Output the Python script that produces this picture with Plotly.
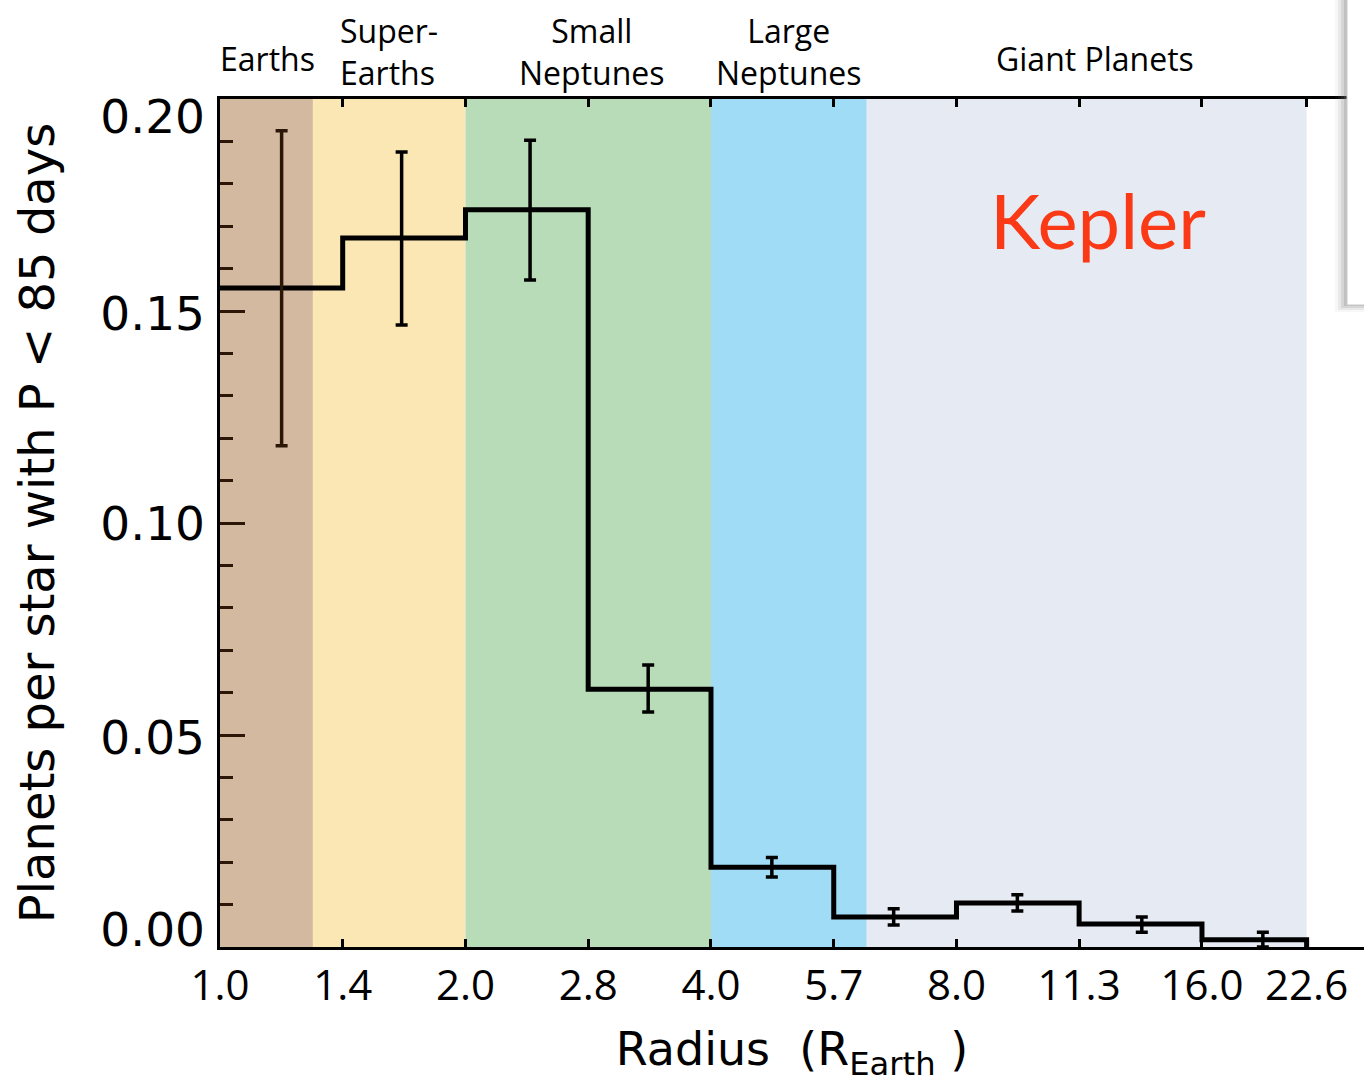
import math
import plotly.graph_objects as go

# ---- data ----
bin_edges = [1.0, 1.414, 2.0, 2.828, 4.0, 5.657, 8.0, 11.31, 16.0, 21.5]
occurrence = [0.1554, 0.1672, 0.1739, 0.0608, 0.0188, 0.0071, 0.0104, 0.0054, 0.0017]
err_upper = [0.1925, 0.1875, 0.1903, 0.0665, 0.0211, 0.0090, 0.0123, 0.0071, 0.0035]
err_lower = [0.1182, 0.1467, 0.1573, 0.0554, 0.0165, 0.0052, 0.0085, 0.0035, 0.0000]
err_x = [1.19, 1.67, 2.40, 3.35, 4.75, 6.70, 9.50, 13.5, 19.0]

tick_vals = [1.0, 1.414, 2.0, 2.828, 4.0, 5.657, 8.0, 11.31, 16.0, 21.5]
tick_text = ["1.0", "1.4", "2.0", "2.8", "4.0", "5.7", "8.0", "11.3", "16.0", "22.6"]

y_tick_vals = [0.0, 0.05, 0.10, 0.15, 0.20]
y_label_pos = [0.0040, 0.0495, 0.0998, 0.1495, 0.1958]   # labels sit inside the frame at the ends
y_tick_text = ["0.00", "0.05", "0.10", "0.15", "0.20"]

band_names = ["Earths", "Super-<br>Earths", "Small<br>Neptunes", "Large<br>Neptunes", "Giant Planets"]
band_edges = [1.0, 1.30, 2.0, 4.0, 6.21, 21.5]
band_colors = ["#d4b9a1", "#fae7b4", "#b8dcb7", "#a0dcf6", "#e6ebf3"]
band_label_x = [1.145, 1.395, 2.86, 4.99, 11.83]
band_label_anchor = ["center", "left", "center", "center", "center"]
band_label_y = [1.0483, 1.0565, 1.0565, 1.0565, 1.0483]

fig = go.Figure()

# coloured category bands
for i, c in enumerate(band_colors):
    fig.add_shape(type="rect", xref="x", yref="paper",
                  x0=band_edges[i], x1=band_edges[i + 1], y0=0, y1=1,
                  fillcolor=c, line_width=0, layer="below")

# step histogram
step_x = bin_edges + [bin_edges[-1]]
step_y = occurrence + [occurrence[-1], 0.0]
fig.add_trace(go.Scatter(x=step_x, y=step_y, mode="lines", line_shape="hv",
                         line=dict(color="black", width=5), hoverinfo="skip"))

# error bars (first one sits in the brown band and looks dark brown)
def add_err(idx, color):
    xs = [err_x[i] for i in idx]
    ys = [occurrence[i] for i in idx]
    up = [err_upper[i] - occurrence[i] for i in idx]
    dn = [occurrence[i] - err_lower[i] for i in idx]
    fig.add_trace(go.Scatter(x=xs, y=ys, mode="markers",
                             marker=dict(size=1, color="rgba(0,0,0,0)"),
                             error_y=dict(type="data", symmetric=False, array=up, arrayminus=dn,
                                          color=color, thickness=3.5, width=6)))

add_err([0], "#2b1608")
add_err(list(range(1, 9)), "black")

# invisible trace carrying the tick-label axis
fig.add_trace(go.Scatter(x=[bin_edges[0]], y=[0], yaxis="y2", mode="markers",
                         marker=dict(size=1, color="rgba(0,0,0,0)"), hoverinfo="skip"))

# category labels above the plot (log axis -> annotation x in log10)
for name, x, anc, yy in zip(band_names, band_label_x, band_label_anchor, band_label_y):
    fig.add_annotation(x=math.log10(x), xref="x", y=yy, yref="paper", text=name, showarrow=False,
                       xanchor=anc, yanchor="middle", align=anc,
                       font=dict(family="Open Sans", size=32, color="black"))

# Kepler label
fig.add_annotation(x=math.log10(11.92), xref="x", y=0.1715, yref="y", text="Kepler", showarrow=False,
                   xanchor="center", yanchor="middle",
                   font=dict(family="Lato", size=76, color="#fa3a16"))

# overlapping window at top-right (screenshot artifact)
for k, op in enumerate([0.06, 0.10, 0.16, 0.24]):
    fig.add_shape(type="rect", xref="paper", yref="paper",
                  x0=(1335 + 3 * k - 220) / 1144, x1=1.05,
                  y0=(947 - 312 + 2 * k) / 848, y1=1.2,
                  fillcolor="rgba(120,120,120,%.2f)" % op, line_width=0, layer="above")
fig.add_shape(type="rect", xref="paper", yref="paper",
              x0=(1347 - 220) / 1144, x1=1.05, y0=(947 - 305) / 848, y1=1.2,
              fillcolor="white", line=dict(color="#c8c8c8", width=1), layer="above")

fig.update_layout(
    width=1364, height=1083,
    margin=dict(l=220, r=0, t=99, b=136),
    paper_bgcolor="white", plot_bgcolor="white",
    showlegend=False,
    xaxis=dict(type="log", range=[0, 1.4028], tickmode="array",
               tickvals=tick_vals, ticktext=tick_text,
               ticks="inside", ticklen=8, tickwidth=3, tickcolor="black",
               showline=True, linewidth=3, linecolor="black", mirror="ticks",
               showgrid=False, zeroline=False,
               tickfont=dict(family="Open Sans", size=42, color="black"),
               title=dict(text="Radius  (R<sub>Earth</sub> )", standoff=29,
                          font=dict(family="DejaVu Sans", size=46, color="black"))),
    yaxis=dict(range=[0, 0.2], tickmode="array", tickvals=y_tick_vals,
               showticklabels=False,
               ticks="inside", ticklen=25, tickwidth=3, tickcolor="#2b1608",
               minor=dict(dtick=0.01, tick0=0, ticks="inside", ticklen=13, tickwidth=3,
                          tickcolor="#2b1608", showgrid=False),
               showline=True, linewidth=3, linecolor="black",
               showgrid=False, zeroline=False,
               title=dict(text="Planets per star with P < 85 days", standoff=148,
                          font=dict(family="DejaVu Sans", size=48, color="black"))),
    yaxis2=dict(range=[0, 0.2], overlaying="y", side="left", tickmode="array",
                tickvals=y_label_pos, ticktext=y_tick_text, ticks="", showline=False,
                showgrid=False, zeroline=False, ticklabelstandoff=14,
                tickfont=dict(family="DejaVu Sans", size=47, color="black")),
)

fig.write_html("out.html")
